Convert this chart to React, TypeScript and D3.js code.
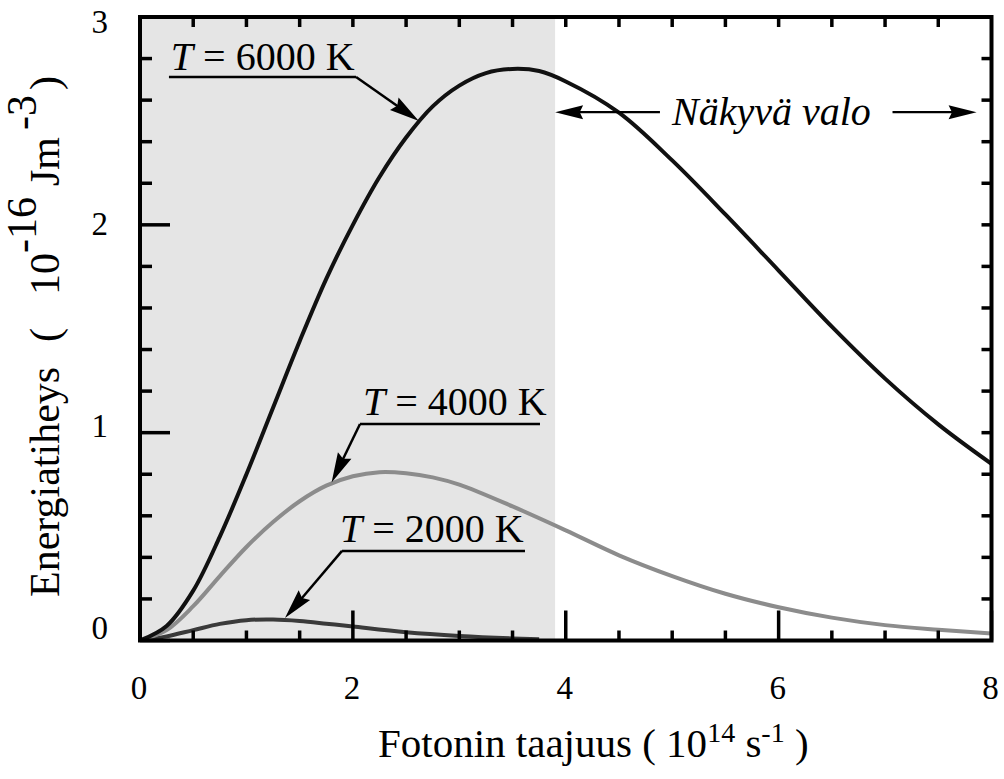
import React from "react";
import * as d3 from "d3";

// ---- data ----
const freq6000 = [0, 0.25, 0.5, 0.75, 1.0, 1.25, 1.5, 1.75, 2.0, 2.25, 2.5, 2.75, 3.0, 3.25, 3.5, 3.75, 4.0, 4.5, 5.0, 5.5, 6.0, 6.5, 7.0, 7.5, 8.0];
const energy6000 = [0, 0.07, 0.24, 0.5, 0.8, 1.12, 1.44, 1.74, 2.0, 2.23, 2.42, 2.57, 2.67, 2.73, 2.75, 2.74, 2.69, 2.54, 2.31, 2.05, 1.78, 1.51, 1.26, 1.04, 0.85];

const freq4000 = [0, 0.25, 0.5, 0.75, 1.0, 1.25, 1.5, 1.75, 2.0, 2.25, 2.5, 2.75, 3.0, 3.5, 4.0, 4.5, 5.0, 5.5, 6.0, 6.5, 7.0, 7.5, 8.0];
const energy4000 = [0, 0.05, 0.165, 0.31, 0.45, 0.57, 0.67, 0.745, 0.79, 0.81, 0.805, 0.785, 0.75, 0.645, 0.53, 0.41, 0.31, 0.225, 0.16, 0.11, 0.074, 0.052, 0.034];

const freq2000 = [0, 0.25, 0.5, 0.75, 1.0, 1.25, 1.5, 1.75, 2.0, 2.5, 3.0, 3.5, 3.75];
const energy2000 = [0, 0.02, 0.05, 0.08, 0.098, 0.101, 0.094, 0.081, 0.067, 0.04, 0.022, 0.01, 0.006];

const xTickLabels = [0, 2, 4, 6, 8];
const yTickLabels = [0, 1, 2, 3];
const visibleLightStart = 3.9;

const curveLabels = ["6000", "4000", "2000"];
// annotation anchors in data units
const labelTextPos = [[0.29, 2.745], [2.095, 1.085], [1.879, 0.474]];
const labelUnderline = [[0.272, 2.03, 2.711], [2.067, 3.758, 1.042], [1.898, 3.617, 0.431]];
const labelArrowFrom = [[2.03, 2.711], [2.067, 1.042], [1.898, 0.431]];
const labelArrowTip = [[2.62, 2.5], [1.8, 0.76], [1.362, 0.108]];

const FONT = "'Liberation Serif', 'Times New Roman', serif";

function arrow(x1: number, y1: number, x2: number, y2: number, len = 30, hw = 7, sw = 2.5) {
  const dx = x2 - x1, dy = y2 - y1;
  const L = Math.hypot(dx, dy);
  const ux = dx / L, uy = dy / L;
  const bx = x2 - ux * len, by = y2 - uy * len;
  const px = -uy, py = ux;
  const pts = `${x2},${y2} ${bx + px * hw},${by + py * hw} ${bx + ux * len * 0.12},${by + uy * len * 0.12} ${bx - px * hw},${by - py * hw}`;
  return (
    <g>
      <line x1={x1} y1={y1} x2={bx + ux * 6} y2={by + uy * 6} stroke="#000" strokeWidth={sw} />
      <polygon points={pts} fill="#000" />
    </g>
  );
}

export default function App() {
  const left = 140, right = 991.5, top = 17, bottom = 640.5;
  const x = d3.scaleLinear().domain([0, 8]).range([left, right]);
  const y = d3.scaleLinear().domain([0, 3]).range([bottom, top]);
  const yLab = d3.scaleLinear().domain([0, 3]).range([627, 21]);

  const line = d3
    .line<[number, number]>()
    .x((d) => x(d[0]))
    .y((d) => y(Math.max(0, d[1])))
    .curve(d3.curveCatmullRom.alpha(0.5));

  const s6000 = freq6000.map((f, i) => [f, energy6000[i]] as [number, number]);
  const s4000 = freq4000.map((f, i) => [f, energy4000[i]] as [number, number]);
  const s2000 = freq2000.map((f, i) => [f, energy2000[i]] as [number, number]);

  const bottomMinor = d3.range(0.5, 8, 0.5).filter((v) => Math.abs(v % 2) > 1e-6);
  const topTicks = d3.range(0.5, 8, 0.5);
  const leftMinor = d3.range(0.2, 3, 0.2).filter((v) => Math.abs(v - Math.round(v)) > 1e-6);
  const rightTicks = d3.range(0.2, 3, 0.2);

  const tickW = 3.5;

  return (
    <svg
      width={1004}
      height={779}
      style={{ position: "absolute", left: 0, top: 0, background: "#fff" }}
      fontFamily={FONT}
    >
      <defs>
        <clipPath id="plotClip">
          <rect x={left} y={top} width={right - left} height={bottom - top} />
        </clipPath>
      </defs>
      <rect x={0} y={0} width={1004} height={779} fill="#fff" />
      {/* visible light shading */}
      <rect x={x(0)} y={y(3)} width={x(visibleLightStart) - x(0)} height={y(0) - y(3)} fill="#e5e5e5" />

      {/* curves */}
      <g clipPath="url(#plotClip)">
        <path d={line(s2000) || ""} fill="none" stroke="#3a3a3a" strokeWidth={4} strokeLinejoin="round" />
        <path d={line(s4000) || ""} fill="none" stroke="#8c8c8c" strokeWidth={4} strokeLinejoin="round" />
        <path d={line(s6000) || ""} fill="none" stroke="#111" strokeWidth={4} strokeLinejoin="round" />
      </g>

      {/* ticks */}
      <g stroke="#000" strokeWidth={tickW}>
        {xTickLabels.map((v) => (
          <line key={"bM" + v} x1={x(v)} x2={x(v)} y1={bottom} y2={bottom - 30} />
        ))}
        {bottomMinor.map((v) => (
          <line key={"bm" + v} x1={x(v)} x2={x(v)} y1={bottom} y2={bottom - 10} />
        ))}
        {topTicks.map((v) => (
          <line key={"t" + v} x1={x(v)} x2={x(v)} y1={top} y2={top + 10} />
        ))}
        {yTickLabels.map((v) => (
          <line key={"lM" + v} x1={left} x2={left + 30} y1={y(v)} y2={y(v)} />
        ))}
        {leftMinor.map((v) => (
          <line key={"lm" + v} x1={left} x2={left + 12} y1={y(v)} y2={y(v)} />
        ))}
        {rightTicks.map((v) => (
          <line key={"r" + v} x1={right} x2={right - 10} y1={y(v)} y2={y(v)} />
        ))}
      </g>

      {/* frame */}
      <rect x={left} y={top} width={right - left} height={bottom - top} fill="none" stroke="#000" strokeWidth={4} />

      {/* tick labels */}
      <g fontSize={33} fill="#000">
        {xTickLabels.map((v) => (
          <text key={"xl" + v} x={x(v) - 1} y={699} textAnchor="middle">
            {v}
          </text>
        ))}
        {yTickLabels.map((v) => (
          <text key={"yl" + v} x={108} y={yLab(v)} dy="0.35em" textAnchor="end">
            {v}
          </text>
        ))}
      </g>

      {/* curve annotations */}
      {curveLabels.map((t, i) => {
        const [tx, ty] = labelTextPos[i];
        const [ux1, ux2, uy] = labelUnderline[i];
        const [ax, ay] = labelArrowFrom[i];
        const [px, py] = labelArrowTip[i];
        return (
          <g key={"lab" + t}>
            <text x={x(tx)} y={y(ty)} fontSize={40}>
              <tspan fontStyle="italic">T</tspan>
              {" = " + t + " K"}
            </text>
            <line x1={x(ux1)} x2={x(ux2)} y1={y(uy)} y2={y(uy)} stroke="#000" strokeWidth={2.5} />
            {arrow(x(ax), y(ay), x(px), y(py), 30, 7.5, 2.5)}
          </g>
        );
      })}

      {/* visible light annotation */}
      {arrow(x(4.885), y(2.542), x(visibleLightStart), y(2.542), 28, 7, 2.2)}
      {arrow(x(7.07), y(2.542), x(7.86), y(2.542), 28, 7, 2.2)}
      <text x={x(4.998)} y={y(2.48)} fontSize={40} fontStyle="italic">
        Näkyvä valo
      </text>

      {/* x axis title */}
      <text x={378} y={757} fontSize={41}>
        {"Fotonin taajuus (  10"}
        <tspan fontSize={28} dy={-15}>14</tspan>
        <tspan dy={15}>{" s"}</tspan>
        <tspan fontSize={28} dy={-15}>-1</tspan>
        <tspan dy={15}>{"  )"}</tspan>
      </text>

      {/* y axis title (rotated) */}
      <g transform="rotate(-90)" fontSize={42}>
        <text x={-597} y={59}>Energiatiheys</text>
        <text x={-342} y={59}>(</text>
        <text x={-295} y={59}>10</text>
        <text x={-253} y={36}>-16</text>
        <text x={-186} y={59}>Jm</text>
        <text x={-130} y={36}>-3</text>
        <text x={-90} y={59}>)</text>
      </g>
    </svg>
  );
}
